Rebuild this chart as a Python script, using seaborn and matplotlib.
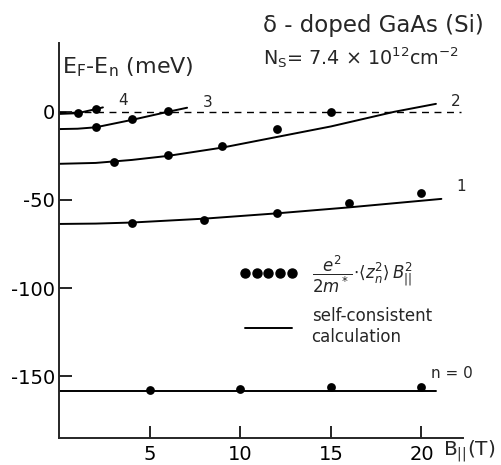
import pandas as pd
import seaborn as sns
import matplotlib.pyplot as plt
from matplotlib.lines import Line2D

# dots: e^2/2m* <z_n^2> B^2 estimate, per subband n
b_dots_0 = [5, 10, 15, 20]
e_dots_0 = [-157.5, -157, -156, -156]
b_dots_1 = [4, 8, 12, 16, 20]
e_dots_1 = [-63, -61.4, -57.4, -52, -46]
b_dots_2 = [3, 6, 9, 12, 15]
e_dots_2 = [-28.4, -24.5, -19.3, -9.7, 0]
b_dots_3 = [2, 4, 6]
e_dots_3 = [-8.7, -4, 0.7]
b_dots_4 = [1, 2]
e_dots_4 = [-0.8, 1.8]

# solid lines: self-consistent calculation
b_calc_0 = [0, 5, 10, 15, 20.8]
e_calc_0 = [-158.5, -158.5, -158.5, -158.5, -158.5]
b_calc_1 = [0, 2, 4, 8, 12, 16, 21.1]
e_calc_1 = [-63.6, -63.4, -62.8, -60.6, -57.6, -54.2, -49.4]
b_calc_2 = [0, 2, 4, 6, 9, 12, 15, 18.5, 20.8]
e_calc_2 = [-29.5, -29, -27.3, -25, -20.3, -14.3, -8.3, 0, 4.5]
b_calc_3 = [0, 1, 2, 4, 6, 7.05]
e_calc_3 = [-9.8, -9.6, -8.8, -4.6, 0, 2.3]
b_calc_4 = [0, 1, 2, 2.4]
e_calc_4 = [-1.2, -0.8, 1.5, 2.5]

labels = ["0", "1", "2", "3", "4"]

dots = pd.concat([
    pd.DataFrame({"B": b, "E": e, "n": n})
    for b, e, n in zip([b_dots_0, b_dots_1, b_dots_2, b_dots_3, b_dots_4],
                       [e_dots_0, e_dots_1, e_dots_2, e_dots_3, e_dots_4], labels)
])
calc = pd.concat([
    pd.DataFrame({"B": b, "E": e, "n": n})
    for b, e, n in zip([b_calc_0, b_calc_1, b_calc_2, b_calc_3, b_calc_4],
                       [e_calc_0, e_calc_1, e_calc_2, e_calc_3, e_calc_4], labels)
])

sns.set_style("ticks")
plt.rcParams['font.family'] = ['DejaVu Sans']

fig = plt.figure(figsize=(5.02, 4.65), dpi=100)
ax = fig.add_axes([0.1185, 0.058, 0.804, 0.8495])

ax.axhline(0, color="black", lw=1.0, ls=(0, (5, 4)), xmax=22.2 / 22.3)
sns.lineplot(data=calc, x="B", y="E", units="n", estimator=None, sort=False,
             color="black", lw=1.4, ax=ax)
sns.scatterplot(data=dots, x="B", y="E", color="black", s=40, linewidth=0, ax=ax, zorder=5)

ax.set_xlim(0, 22.3)
ax.set_ylim(-185, 39)
ax.set_xticks([5, 10, 15, 20])
ax.set_xticklabels(["5", "10", "15", "20"])
ax.set_yticks([0, -50, -100, -150])
ax.set_yticklabels(["0", "-50", "-100", "-150"])
ax.tick_params(direction="in", length=9, width=1.2, labelsize=14, pad=3, colors="black")
ax.tick_params(axis="x", pad=5)
for s in ["top", "right"]:
    ax.spines[s].set_visible(False)
for s in ["left", "bottom"]:
    ax.spines[s].set_linewidth(1.4)
ax.set_xlabel("")
ax.set_ylabel("")

# curve labels
ax.text(3.25, 6.3, "4", fontsize=11, va="center")
ax.text(7.9, 5.1, "3", fontsize=11, va="center")
ax.text(21.6, 5.7, "2", fontsize=11, va="center")
ax.text(21.95, -42.6, "1", fontsize=11, va="center")
ax.text(20.5, -148.3, "n = 0", fontsize=11, va="center")

ax.text(0.15, 25.5, r"E$_\mathregular{F}$-E$_\mathregular{n}$ (meV)", fontsize=16, va="center")
fig.text(0.524, 0.945, "δ - doped GaAs (Si)", fontsize=16.5, va="center")
fig.text(0.524, 0.877, r"N$_\mathregular{S}$= 7.4 × 10$^\mathregular{12}$cm$^\mathregular{-2}$",
         fontsize=13.8, va="center")
fig.text(0.882, 0.030, r"B$_{\mathregular{||}}$(T)", fontsize=14.5, va="center")

handles = [Line2D([], [], ls="none", marker="o", color="black", markersize=6.5),
           Line2D([], [], color="black", lw=1.4)]
leg_labels = [r"$\dfrac{e^2}{2m^*}\!\cdot\!\langle z_n^2\rangle\, B_{||}^2$",
              "self-consistent\ncalculation"]
ax.legend(handles, leg_labels, numpoints=5, frameon=False, loc="upper left",
          bbox_to_anchor=(0.447, 0.468), borderaxespad=0, borderpad=0,
          handlelength=3.4, handletextpad=0.9, labelspacing=0.75, fontsize=12)

fig.savefig("out.png", dpi=100)
